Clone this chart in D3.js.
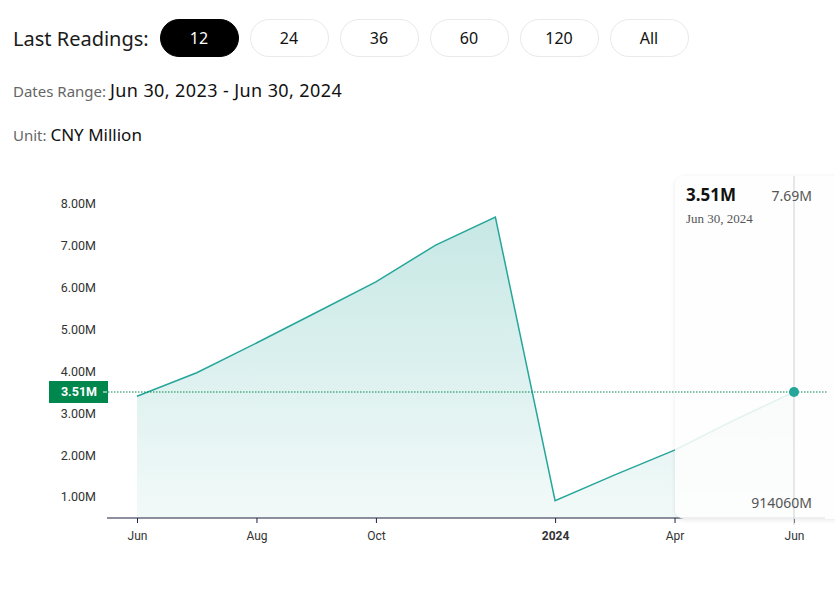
<!DOCTYPE html>
<html>
<head>
<meta charset="utf-8">
<script src="https://cdn.jsdelivr.net/npm/d3@7"></script>
<style>
  html, body { margin: 0; padding: 0; background: #fff; }
  svg { display: block; }
</style>
</head>
<body>
<svg id="chart" width="835" height="591"></svg>
<script>
'use strict';

// readings (CNY million), one per month, Jan folded into Feb
var dates = ['2023-06-30', '2023-07-31', '2023-08-31', '2023-09-30', '2023-10-31',
  '2023-11-30', '2023-12-31', '2024-02-29', '2024-03-31', '2024-04-30',
  '2024-05-31', '2024-06-30'];
var values = [3.41, 3.97, 4.68, 5.41, 6.14, 7.02, 7.69, 0.91406, 1.53, 2.12, 2.84, 3.51];

var yTicks = [1, 2, 3, 4, 5, 6, 7, 8];
var xTickIdx = [0, 2, 4, 7, 9, 11];
var xTickLabels = ['Jun', 'Aug', 'Oct', '2024', 'Apr', 'Jun'];
var buttons = ['12', '24', '36', '60', '120', 'All'];

var svg = d3.select('#chart');
var font = "'Noto Sans', sans-serif";

// header
svg.append('text')
  .attr('x', 13).attr('y', 46)
  .style('font', '20px ' + font).attr('fill', '#1a1a1a')
  .text('Last Readings:');

var btn = svg.selectAll('g.btn').data(buttons).enter()
  .append('g').attr('class', 'btn')
  .attr('transform', (d, i) => 'translate(' + (160 + i * 90) + ',19)');

btn.append('rect')
  .attr('x', 0.5).attr('y', 0.5)
  .attr('width', 78).attr('height', 37)
  .attr('rx', 18.5)
  .attr('fill', (d, i) => i === 0 ? '#000' : '#fff')
  .attr('stroke', (d, i) => i === 0 ? '#000' : '#e9e9e9');

btn.append('text')
  .attr('x', 39).attr('y', 25)
  .attr('text-anchor', 'middle')
  .style('font', '16px ' + font)
  .attr('fill', (d, i) => i === 0 ? '#fff' : '#111')
  .text(d => d);

var t1 = svg.append('text').attr('x', 13).attr('y', 97);
t1.append('tspan').style('font', '15px ' + font).attr('fill', '#666').text('Dates Range: ');
t1.append('tspan').style('font', '18px ' + font).style('letter-spacing', '0.4px')
  .attr('fill', '#111').text('Jun 30, 2023 - Jun 30, 2024');

var t2 = svg.append('text').attr('x', 13).attr('y', 141);
t2.append('tspan').style('font', '15px ' + font).attr('fill', '#666').text('Unit: ');
t2.append('tspan').style('font', '17px ' + font).attr('fill', '#111').text('CNY Million');

// chart
var x = d3.scaleLinear().domain([0, values.length - 1]).range([137, 794]);
var y = d3.scaleLinear().domain([0.5, 8.3]).range([518, 191.5]);
var teal = '#26a69a';

var defs = svg.append('defs');
var grad = defs.append('linearGradient')
  .attr('id', 'fillGrad').attr('x1', 0).attr('y1', 0).attr('x2', 0).attr('y2', 1);
grad.append('stop').attr('offset', '0%').attr('stop-color', teal).attr('stop-opacity', 0.26);
grad.append('stop').attr('offset', '100%').attr('stop-color', teal).attr('stop-opacity', 0.06);

var shadow = defs.append('filter').attr('id', 'shadow')
  .attr('x', '-20%').attr('y', '-20%').attr('width', '140%').attr('height', '140%');
shadow.append('feDropShadow')
  .attr('dx', 0).attr('dy', 1).attr('stdDeviation', 2)
  .attr('flood-color', '#000').attr('flood-opacity', 0.1);

var area = d3.area()
  .x((d, i) => x(i))
  .y0(y.range()[0])
  .y1(d => y(d));

var line = d3.line()
  .x((d, i) => x(i))
  .y(d => y(d));

svg.append('path').datum(values)
  .attr('d', area)
  .attr('fill', 'url(#fillGrad)');

svg.append('path').datum(values)
  .attr('d', line)
  .attr('fill', 'none')
  .attr('stroke', teal)
  .attr('stroke-width', 1.5);

// y labels, no axis line
svg.append('g').selectAll('text').data(yTicks).enter()
  .append('text')
  .attr('x', 96).attr('y', d => y(d))
  .attr('dy', '0.35em')
  .attr('text-anchor', 'end')
  .style('font', '12.5px Roboto, sans-serif')
  .attr('fill', '#333')
  .text(d => d3.format('.2f')(d) + 'M');

// x axis
var xAxis = d3.axisBottom(x)
  .tickValues(xTickIdx)
  .tickFormat((d, i) => xTickLabels[i])
  .tickSize(5)
  .tickSizeOuter(0);

var gx = svg.append('g')
  .attr('transform', 'translate(0,' + y.range()[0] + ')')
  .call(xAxis);
gx.select('.domain').remove();
gx.insert('line', ':first-child')
  .attr('x1', 107).attr('x2', 825)
  .attr('stroke', '#1f2240').attr('stroke-width', 1.2);
gx.selectAll('.tick line').attr('stroke', '#1f2240');
gx.selectAll('.tick text')
  .attr('y', 13)
  .style('font', '12px Roboto, sans-serif')
  .attr('fill', '#333')
  .style('font-weight', (d, i) => xTickLabels[i] === '2024' ? 'bold' : 'normal');

// tooltip card over the last reading
var last = values.length - 1;
var lx = x(last);
var ly = y(values[last]);

svg.append('rect')
  .attr('x', 675).attr('y', 176)
  .attr('width', 200).attr('height', 343)
  .attr('rx', 9)
  .attr('fill', '#fff').attr('fill-opacity', 0.86)
  .attr('filter', 'url(#shadow)');

svg.append('line')
  .attr('x1', lx).attr('x2', lx)
  .attr('y1', 176).attr('y2', 525)
  .attr('stroke', '#cfcfcf').attr('stroke-width', 1);

svg.append('line')
  .attr('x1', 108).attr('x2', 828)
  .attr('y1', ly).attr('y2', ly)
  .attr('stroke', '#00874d').attr('stroke-width', 1)
  .attr('stroke-dasharray', '1.5,1.5');

svg.append('circle')
  .attr('cx', lx).attr('cy', ly).attr('r', 5)
  .attr('fill', teal);

svg.append('text')
  .attr('x', 686).attr('y', 201)
  .style('font', 'bold 17px ' + font).attr('fill', '#111')
  .text(d3.format('.2f')(values[last]) + 'M');

svg.append('text')
  .attr('x', 812).attr('y', 201).attr('text-anchor', 'end')
  .style('font', '14px ' + font).attr('fill', '#555')
  .text(d3.format('.2f')(d3.max(values)) + 'M');

svg.append('text')
  .attr('x', 686).attr('y', 223)
  .style('font', '13px "Liberation Serif", serif').attr('fill', '#555')
  .text('Jun 30, 2024');

// the source labels the minimum in raw units with an M suffix
svg.append('text')
  .attr('x', 812).attr('y', 508).attr('text-anchor', 'end')
  .style('font', '14px ' + font).attr('fill', '#555')
  .text(d3.format('d')(Math.round(d3.min(values) * 1e6)) + 'M');

// current value tag on the y side
svg.append('rect')
  .attr('x', 49).attr('y', ly - 11)
  .attr('width', 59).attr('height', 22)
  .attr('fill', '#00874d');
svg.append('line')
  .attr('x1', 103).attr('x2', 107)
  .attr('y1', ly).attr('y2', ly)
  .attr('stroke', '#fff');
svg.append('text')
  .attr('x', 97).attr('y', ly).attr('dy', '0.35em')
  .attr('text-anchor', 'end')
  .style('font', 'bold 12.5px Roboto, sans-serif').attr('fill', '#fff')
  .text(d3.format('.2f')(values[last]) + 'M');
</script>
</body>
</html>
